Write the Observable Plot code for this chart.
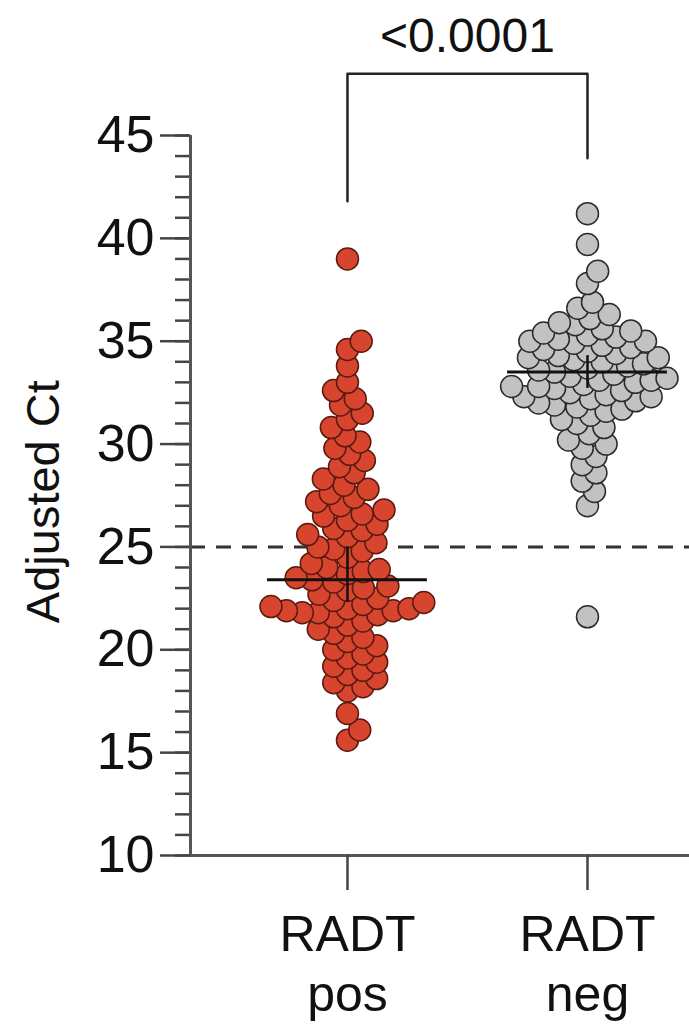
<!DOCTYPE html>
<html><head><meta charset="utf-8">
<script src="https://cdn.jsdelivr.net/npm/d3@7"></script>
<script src="https://cdn.jsdelivr.net/npm/@observablehq/plot@0.6"></script>
<style>body{margin:0;background:#fff}svg{display:block}</style>
</head><body><div id="chart"></div>
<script>
// ---- data ----
const categories = ["RADT\npos", "RADT\nneg"];
const radtPos = [
  39.0,
  35.0, 34.6, 33.8,
  33.0, 32.6, 32.2, 31.9, 31.5, 31.2,
  30.8, 30.4, 30.1,
  29.8, 29.5, 29.2, 28.9, 28.6, 28.3,
  28.0, 27.8, 27.6, 27.4, 27.2, 27.0,
  26.8, 26.6, 26.5, 26.3, 26.1, 25.9,
  25.8, 25.6, 25.5, 25.2, 25.0, 24.9,
  24.8, 24.5, 24.2, 24.0, 23.9,
  23.8, 23.7, 23.5, 23.4, 23.3, 23.1, 23.0,
  22.9, 22.7, 22.5, 22.4, 22.3,
  22.2, 22.1, 22.0, 22.0, 21.9, 21.9, 21.8, 21.8, 21.7, 21.6,
  21.4, 21.2, 21.0, 20.8, 20.6,
  20.4, 20.2, 20.0, 19.8, 19.6,
  19.4, 19.2, 19.0, 18.8, 18.6, 18.4, 18.2, 18.0,
  16.9, 16.1, 15.6
];
const radtNeg = [
  41.2, 39.7, 38.4, 37.8,
  36.9, 36.6, 36.3, 36.1,
  35.9, 35.8, 35.6, 35.5, 35.4, 35.3, 35.2, 35.1, 35.0, 35.0,
  34.9, 34.8, 34.7, 34.6, 34.5, 34.4, 34.3, 34.2, 34.2, 34.1, 34.0,
  33.9, 33.8, 33.7, 33.6, 33.5, 33.4, 33.3, 33.2, 33.1, 33.1, 33.0,
  32.9, 32.8, 32.8, 32.7, 32.6, 32.5, 32.4, 32.3, 32.3, 32.2, 32.1, 32.0,
  31.9, 31.8, 31.7, 31.6, 31.4, 31.2, 31.0,
  30.8, 30.5, 30.2, 30.0,
  29.8, 29.4, 29.0,
  28.6, 28.2, 27.7, 27.0,
  21.6
];
const medians = [23.4, 33.5];
const ciLow = [22.3, 32.7];
const ciHigh = [25.0, 34.3];
const pValue = "<0.0001";
const bracketTop = 48.0;
const bracketFeet = [41.8, 43.9];
const cutoff = 25;
const yMajorTicks = [10, 15, 20, 25, 30, 35, 40, 45];
const yMinorTicks = d3.range(10, 46, 1);
const yTitle = "Adjusted Ct";

// ---- layout ----
const W = 689, H = 1026, mL = 190, mR = 0, mT = 135, mB = 171;
const yDomain = [10, 45], xDomain = [-0.654, 1.425];
const pxPerY = (H - mT - mB) / (yDomain[1] - yDomain[0]);
const pxPerX = (W - mL - mR) / (xDomain[1] - xDomain[0]);
const R = 11, SEP = 16;
const font = "'Liberation Sans', Arial, Helvetica, sans-serif";

// beeswarm layout (pixel space), returns x in data units
function swarm(values, ci) {
  const pts = values.map(v => ({v, py: v * pxPerY})).sort((a, b) => a.v - b.v);
  const placed = [];
  for (const p of pts) {
    const near = placed.filter(q => Math.abs(q.py - p.py) < SEP);
    const cands = [0];
    for (const q of near) {
      const dy = q.py - p.py;
      const dx = Math.sqrt(SEP * SEP - dy * dy);
      cands.push(q.px + dx, q.px - dx);
    }
    cands.sort((a, b) => Math.abs(a) - Math.abs(b));
    for (const c of cands) {
      if (near.every(q => (q.px - c) ** 2 + (q.py - p.py) ** 2 >= SEP * SEP - 1e-6)) { p.px = c; break; }
    }
    placed.push(p);
  }
  return placed.map(p => ({cat: ci, v: p.v, x: ci + p.px / pxPerX}));
}

const posPts = swarm(radtPos, 0);
const negPts = swarm(radtNeg, 1);
const summary = categories.map((c, i) => ({i, med: medians[i], lo: ciLow[i], hi: ciHigh[i]}));
const halfW = 0.333;
const bracket = [
  {x: 0, y: bracketFeet[0]}, {x: 0, y: bracketTop},
  {x: 1, y: bracketTop}, {x: 1, y: bracketFeet[1]}
];

const chart = Plot.plot({
  width: W, height: H,
  marginLeft: mL, marginRight: mR, marginTop: mT, marginBottom: mB,
  style: {fontFamily: font, background: "#fff", color: "#111"},
  x: {domain: xDomain, axis: null},
  y: {domain: yDomain, axis: null},
  marks: [
    Plot.ruleY([cutoff], {stroke: "#333", strokeWidth: 3, strokeDasharray: "15,11"}),
    Plot.axisY(yMinorTicks, {tickSize: 15, tickFormat: () => "", stroke: "#444", strokeWidth: 2.5}),
    Plot.axisY(yMajorTicks, {tickSize: 30, tickPadding: 6, fontSize: 52, stroke: "#444", strokeWidth: 2.5, fill: "#111", label: null}),
    Plot.ruleX([xDomain[0]], {y1: yDomain[0], y2: yDomain[1], stroke: "#555", strokeWidth: 3}),
    Plot.ruleY([yDomain[0]], {stroke: "#555", strokeWidth: 3}),
    Plot.axisX([0, 1], {tickSize: 35, tickPadding: 18, fontSize: 50, lineHeight: 1.2, stroke: "#444", strokeWidth: 2.5, fill: "#111",
      tickFormat: i => categories[i], label: null}),
    Plot.text([yTitle], {x: xDomain[0], y: 27.2, dx: -147, rotate: -90, textAnchor: "middle", fontSize: 47, fill: "#111"}),
    Plot.dot(posPts, {x: "x", y: "v", r: R, fill: "#d8452f", stroke: "#5a1a10", strokeWidth: 1.5}),
    Plot.dot(negPts, {x: "x", y: "v", r: R, fill: "#c2c2c2", stroke: "#2b2b2b", strokeWidth: 1.5}),
    Plot.ruleY(summary, {y: "med", x1: d => d.i - halfW, x2: d => d.i + halfW, stroke: "#111", strokeWidth: 3}),
    Plot.ruleX(summary, {x: "i", y1: "lo", y2: "hi", stroke: "#111", strokeWidth: 2.5}),
    Plot.line(bracket, {x: "x", y: "y", stroke: "#222", strokeWidth: 2.5}),
    Plot.text([pValue], {x: 0.5, y: bracketTop, dy: -22, lineAnchor: "bottom", fontSize: 48, fill: "#111"})
  ]
});
document.getElementById("chart").appendChild(chart);
</script>
</body></html>
